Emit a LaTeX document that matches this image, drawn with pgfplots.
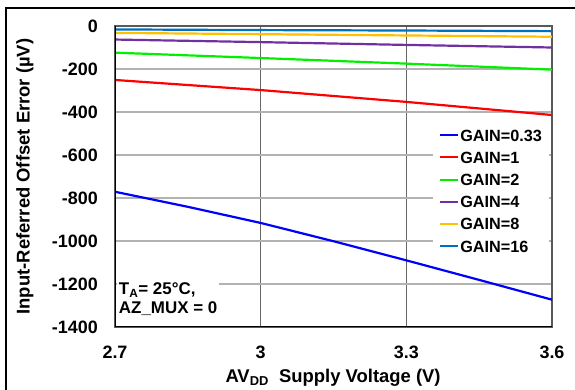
\documentclass[border=0pt]{standalone}
\usepackage{pgfplots}
\pgfplotsset{compat=1.18}
\usepackage{fontspec}
\setmainfont{Liberation Sans}
\definecolor{c033}{RGB}{0,0,255}
\definecolor{c1}{RGB}{255,0,0}
\definecolor{c2}{RGB}{0,240,0}
\definecolor{c4}{RGB}{112,48,160}
\definecolor{c8}{RGB}{255,192,0}
\definecolor{c16}{RGB}{0,112,192}
\begin{document}
\begin{tikzpicture}
\useasboundingbox (0,0) rectangle (575bp,390bp);
\draw[line width=2bp,black] (6bp,0) -- (6bp,382bp) -- (575bp,382bp);
\begin{axis}[
  at={(115bp,63bp)}, anchor=south west,
  scale only axis, width=437bp, height=301bp,
  xmin=2.7, xmax=3.6, ymin=-1400, ymax=0,
  xtick={2.7,3,3.3,3.6}, xticklabels={2.7,3,3.3,3.6},
  ytick={-1400,-1200,...,0},
  /pgf/number format/assume math mode=true,
  /pgf/number format/1000 sep={},
  major tick length=0pt,
  ticklabel style={font=\bfseries\fontsize{18}{20}\selectfont},
  yticklabel style={inner sep=0pt, xshift=-17bp},
  xticklabel style={inner sep=0pt, yshift=-19bp},
  grid=major,
  ymajorgrids, xmajorgrids,
  y grid style={line width=1.3bp, gray!60},
  x grid style={line width=1bp, black!60},
  axis line style={line width=1.3bp, black!65},
  xlabel={AV\textsubscript{DD}~ Supply Voltage (V)},
  ylabel={Input-Referred Offset Error (µV)},
  label style={font=\bfseries\fontsize{18.5}{20}\selectfont},
  xlabel style={at={(axis description cs:0.499,-0.169)}, anchor=center},
  ylabel style={at={(axis description cs:-0.206,0.5)}, anchor=center, rotate=0},
  legend cell align=left,
  legend image code/.code={\draw[line width=2bp] (0bp,0bp) -- (18bp,0bp);},
  legend style={at={(axis description cs:0.728,0.668)}, anchor=north west,
    draw=none, fill=white, inner xsep=6bp, inner ysep=2bp,
    font=\bfseries\fontsize{16.3}{18}\selectfont,
    nodes={inner sep=1bp, text height=12bp, text depth=0bp},
    row sep=8.2bp},
  every axis plot/.append style={line width=2.2bp},
  clip=true,
]
\addplot[c033] coordinates {(2.7,-771) (2.85,-841) (3.0,-916) (3.15,-1001) (3.3,-1090) (3.45,-1181) (3.6,-1273)};
\addplot[c1] coordinates {(2.7,-251) (3.0,-298) (3.3,-353) (3.6,-414)};
\addplot[c2] coordinates {(2.7,-124) (3.0,-149) (3.3,-175) (3.6,-203)};
\addplot[c4] coordinates {(2.7,-63) (3.0,-75) (3.3,-88) (3.6,-100)};
\addplot[c8] coordinates {(2.7,-32) (3.0,-38) (3.3,-44) (3.6,-50)};
\addplot[c16] coordinates {(2.7,-16) (3.0,-19) (3.3,-21) (3.6,-24)};
\legend{GAIN=0.33,GAIN=1,GAIN=2,GAIN=4,GAIN=8,GAIN=16}
\draw[line width=1.5bp,black] (rel axis cs:0,1) -- (rel axis cs:0,0) -- (rel axis cs:1,0);
\node[fill=white, anchor=north west, align=left, inner sep=2bp,
  font=\bfseries\fontsize{17}{19}\selectfont]
  at (axis description cs:0.004,0.153) {T\textsubscript{A}= 25°C,\\AZ\_MUX = 0};
\end{axis}
\end{tikzpicture}
\end{document}
